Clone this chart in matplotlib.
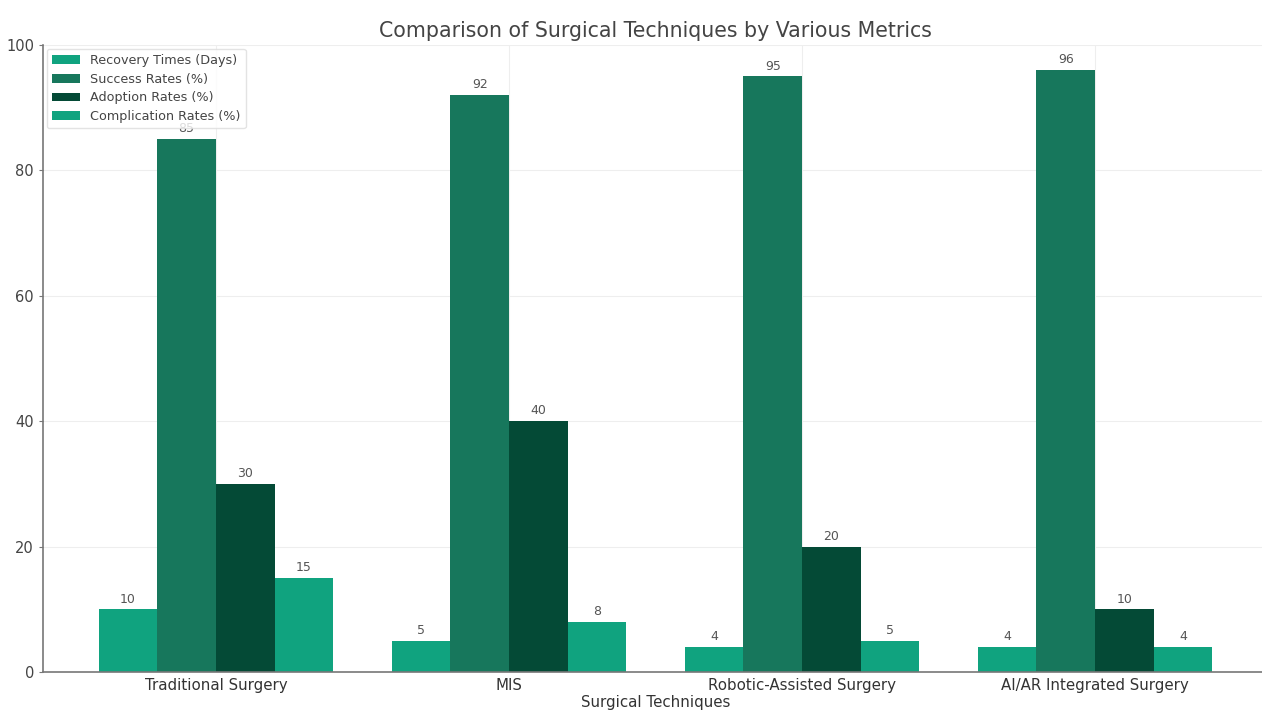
import matplotlib.pyplot as plt
import numpy as np

techniques = ['Traditional Surgery', 'MIS', 'Robotic-Assisted Surgery', 'AI/AR Integrated Surgery']
recovery_times = [10, 5, 4, 4]
success_rates = [85, 92, 95, 96]
adoption_rates = [30, 40, 20, 10]
complication_rates = [15, 8, 5, 4]

series = [
    ('Recovery Times (Days)', recovery_times, '#10a37f'),
    ('Success Rates (%)', success_rates, '#17775c'),
    ('Adoption Rates (%)', adoption_rates, '#044a36'),
    ('Complication Rates (%)', complication_rates, '#10a37f'),
]

fig = plt.figure(figsize=(12.62, 7.11), dpi=100)
ax = fig.add_axes([43 / 1262, 39 / 711, 1225 / 1262, 627 / 711])

x = np.arange(len(techniques))
width = 0.2
for i, (label, vals, color) in enumerate(series):
    bars = ax.bar(x + (i - 1.5) * width, vals, width, label=label, color=color, zorder=2)
    for b, v in zip(bars, vals):
        ax.text(b.get_x() + b.get_width() / 2, v + 0.6, str(v), ha='center', va='bottom',
                fontsize=9, color='#555555', zorder=1)

ax.set_ylim(0, 100)
ax.set_xlim(-0.59, 3.59)
ax.set_xticks(x)
ax.set_xticklabels(techniques, fontsize=10.8, color='#333333')
ax.tick_params(axis='y', labelsize=10.5, length=3, color='#777777')
ax.tick_params(axis='x', length=0, pad=4)
for lbl in ax.get_yticklabels():
    lbl.set_color('#444444')
ax.set_xlabel('Surgical Techniques', fontsize=10.8, color='#333333', labelpad=2)
ax.set_title('Comparison of Surgical Techniques by Various Metrics', fontsize=14.8,
             color='#444444', pad=6)
ax.grid(True, color='#eeeeee', linewidth=0.8, zorder=0)
ax.set_axisbelow(True)
for s in ['top', 'right']:
    ax.spines[s].set_visible(False)
for s in ['left', 'bottom']:
    ax.spines[s].set_color('#777777')
    ax.spines[s].set_linewidth(1.2)

leg = ax.legend(loc='upper left', fontsize=9.2, frameon=True, labelcolor='#444444',
                handlelength=2.2, borderaxespad=0.3, labelspacing=0.45)
leg.set_zorder(5)
leg.get_frame().set_edgecolor('#dddddd')

fig.savefig('out.png', dpi=100)
